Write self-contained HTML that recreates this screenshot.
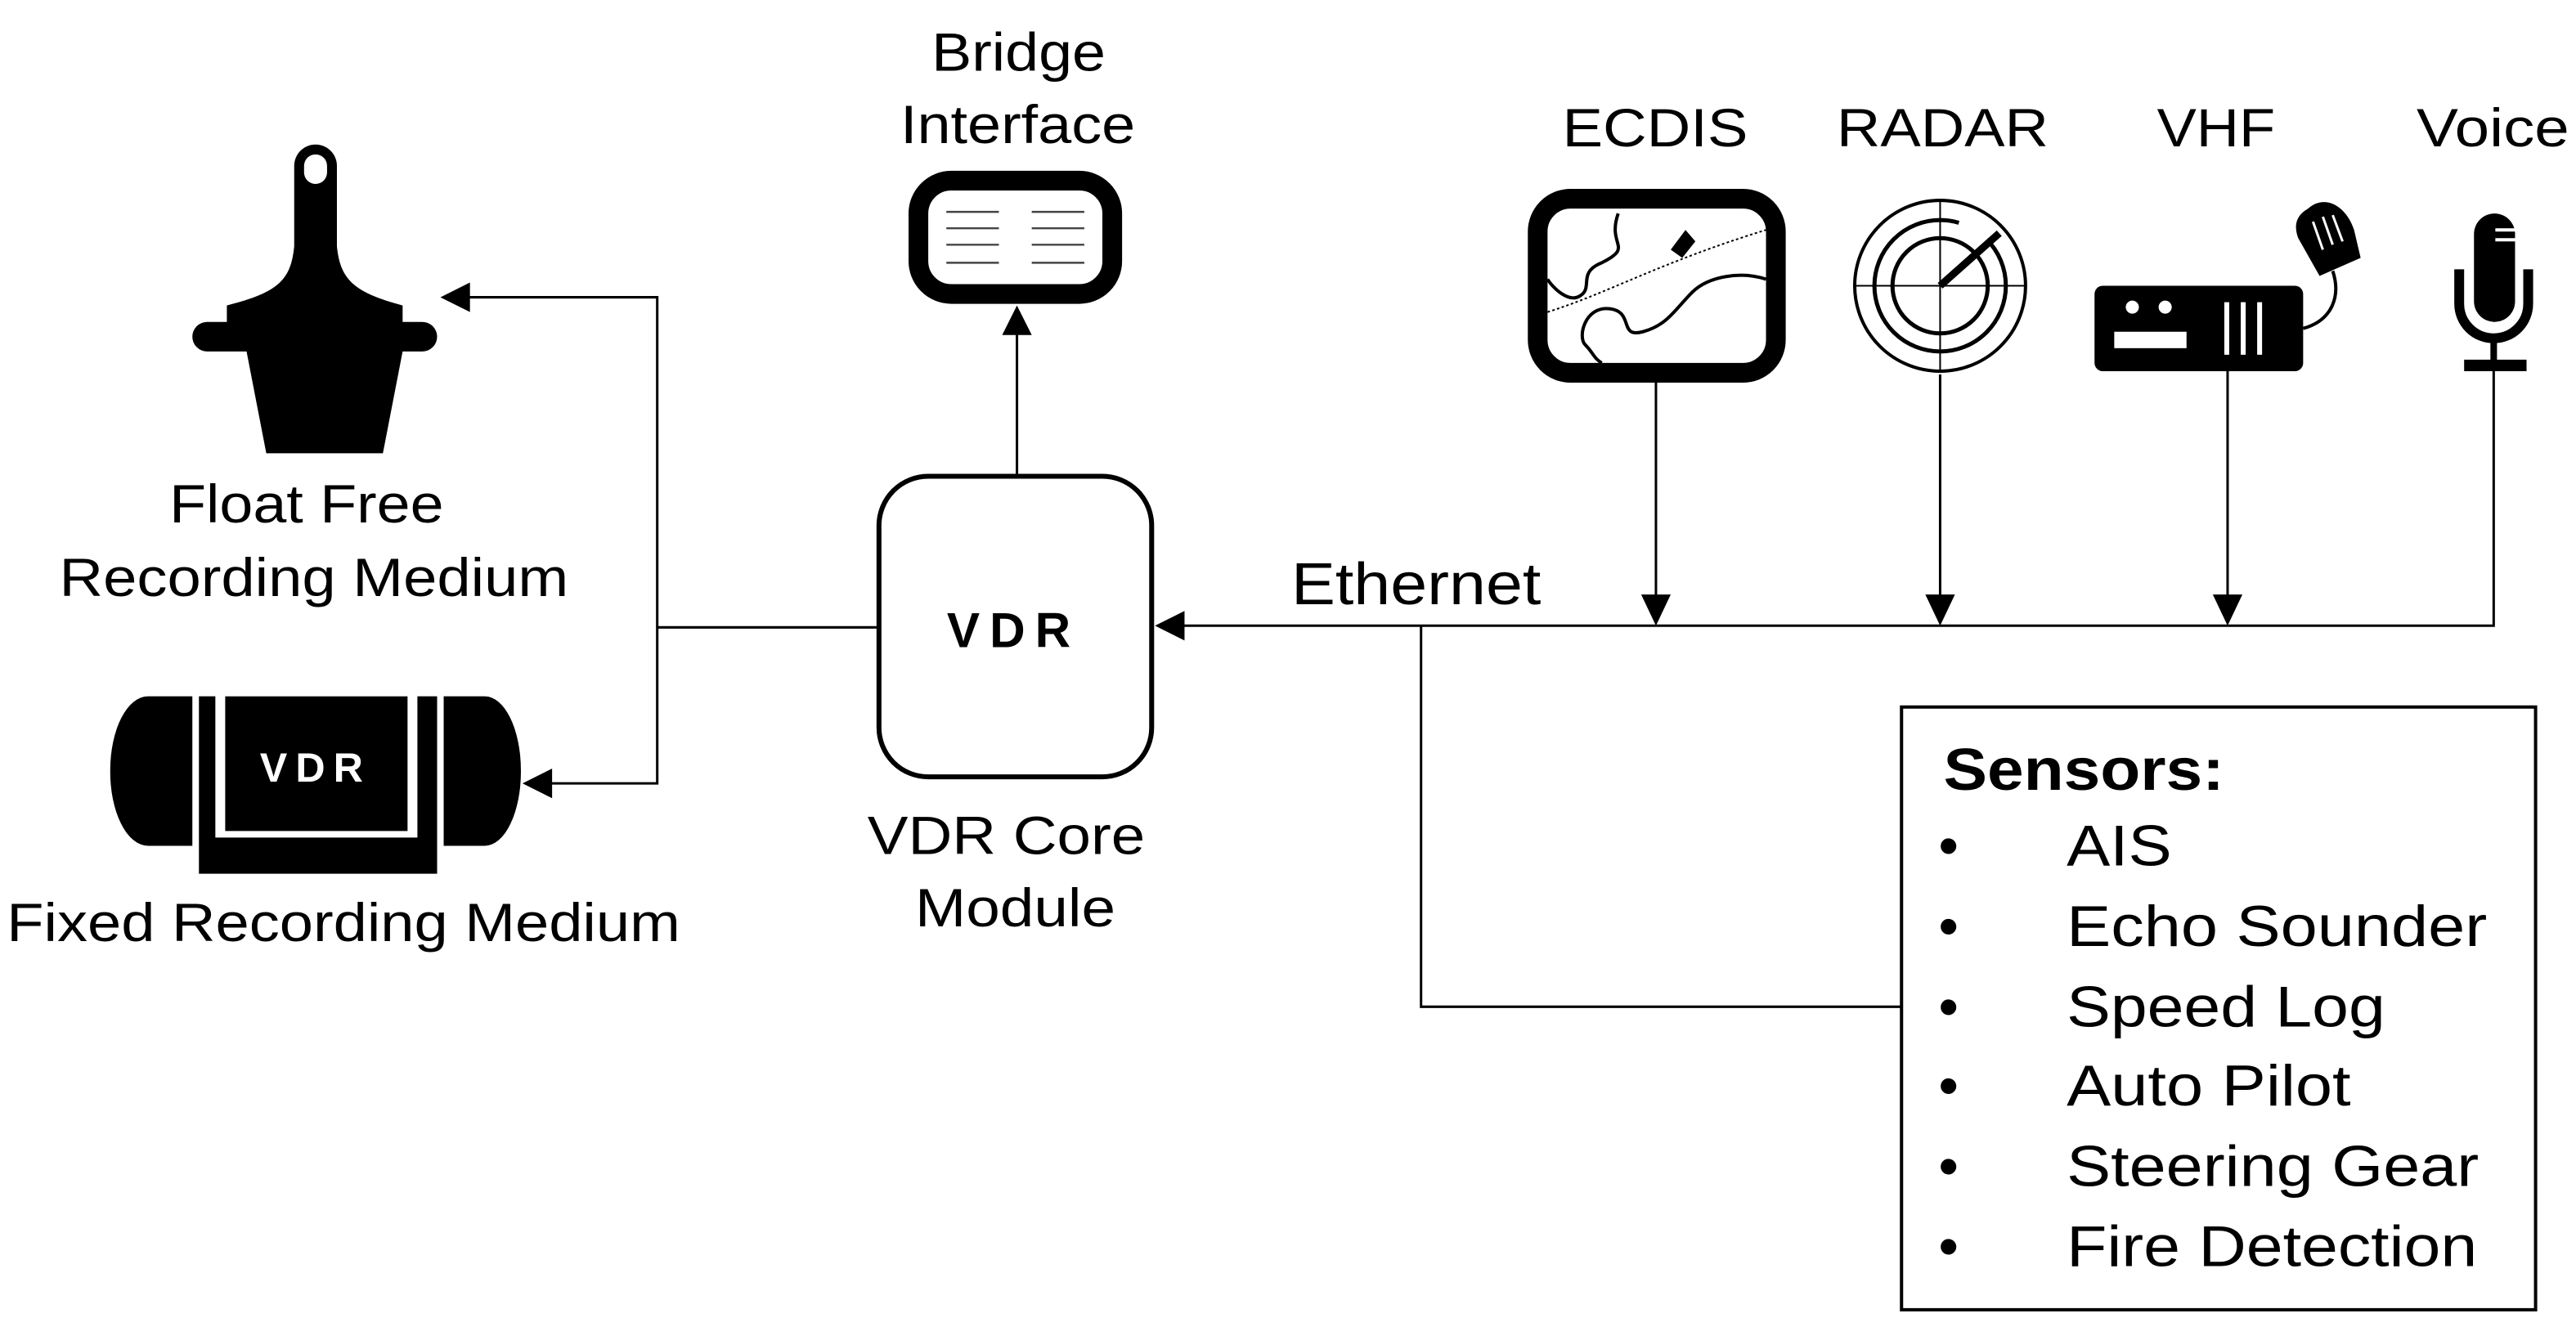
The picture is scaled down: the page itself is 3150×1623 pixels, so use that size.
<!DOCTYPE html>
<html><head><meta charset="utf-8"><style>
html,body{margin:0;padding:0;background:#fff}
svg{display:block}
text{font-family:"Liberation Sans",Arial,sans-serif;fill:#000}
</style></head><body>
<svg width="3150" height="1623" viewBox="0 0 1568 808" xmlns="http://www.w3.org/2000/svg">
<rect width="1568" height="808" fill="#fff"/>
<!-- Labels -->
<g font-size="33" lengthAdjust="spacingAndGlyphs">
<text x="567" y="43" textLength="106" lengthAdjust="spacingAndGlyphs">Bridge</text>
<text x="548" y="87" textLength="143" lengthAdjust="spacingAndGlyphs">Interface</text>
<text x="103" y="318" textLength="167" lengthAdjust="spacingAndGlyphs">Float Free</text>
<text x="36" y="363" textLength="310" lengthAdjust="spacingAndGlyphs">Recording Medium</text>
<text x="4" y="573" textLength="410" lengthAdjust="spacingAndGlyphs">Fixed Recording Medium</text>
<text x="528" y="520" textLength="169" lengthAdjust="spacingAndGlyphs">VDR Core</text>
<text x="557" y="564" textLength="122" lengthAdjust="spacingAndGlyphs">Module</text>
<text x="951" y="89" textLength="113" lengthAdjust="spacingAndGlyphs">ECDIS</text>
<text x="1118" y="89" textLength="129" lengthAdjust="spacingAndGlyphs">RADAR</text>
<text x="1313" y="89" textLength="72" lengthAdjust="spacingAndGlyphs">VHF</text>
<text x="1471" y="89" textLength="93" lengthAdjust="spacingAndGlyphs">Voice</text>
</g>
<text x="786" y="368" font-size="36" textLength="152" lengthAdjust="spacingAndGlyphs">Ethernet</text>

<!-- Bridge icon -->
<rect x="559" y="110" width="118" height="69" rx="20" fill="#fff" stroke="#000" stroke-width="12"/>
<g stroke="#444" stroke-width="1.2">
<line x1="576" y1="129" x2="608" y2="129"/><line x1="576" y1="139" x2="608" y2="139"/><line x1="576" y1="149" x2="608" y2="149"/><line x1="576" y1="160" x2="608" y2="160"/>
<line x1="628" y1="129" x2="660" y2="129"/><line x1="628" y1="139" x2="660" y2="139"/><line x1="628" y1="149" x2="660" y2="149"/><line x1="628" y1="160" x2="660" y2="160"/>
</g>

<!-- VDR core -->
<rect x="535" y="290" width="166" height="183" rx="30" fill="#fff" stroke="#000" stroke-width="3"/>
<text x="617" y="394" font-size="30" font-weight="bold" text-anchor="middle" letter-spacing="6">VDR</text>

<!-- connectors -->
<g stroke="#000" stroke-width="1.5" fill="none">
<line x1="619" y1="289" x2="619" y2="200"/>
<line x1="534" y1="382" x2="400" y2="382"/>
<polyline points="285,181 400,181 400,477 335,477"/>
<polyline points="1518,225 1518,381 720,381"/>
<line x1="1008" y1="233" x2="1008" y2="365"/>
<line x1="1181" y1="228" x2="1181" y2="365"/>
<line x1="1356" y1="225" x2="1356" y2="365"/>
<polyline points="865,381 865,613 1157,613"/>
</g>
<g fill="#000">
<polygon points="619,186 610,204 628,204"/>
<polygon points="268,181 286,172 286,190"/>
<polygon points="318,477 336,468 336,486"/>
<polygon points="703,381 721,372 721,390"/>
<polygon points="1008,381 999,362 1017,362"/>
<polygon points="1181,381 1172,362 1190,362"/>
<polygon points="1356,381 1347,362 1365,362"/>
</g>

<!-- Float free icon -->
<g fill="#000">
<path d="M179,150 L179,101 A13,13 0 0 1 205,101 L205,150 C207,170 215,178 245,186 L245,196 L257,196 A9,9 0 0 1 257,214 L245,214 L233,276 L162,276 L150,214 L126,214 A9,9 0 0 1 126,196 L138,196 L138,186 C170,178 177,170 179,150 Z"/>
</g>
<rect x="185" y="94" width="14" height="18" rx="7" fill="#fff"/>

<!-- Fixed recording medium -->
<g fill="#000">
<path d="M117,424 L90,424 A23,45 0 0 0 67,469 A23,45 0 0 0 90,515 L117,515 Z"/>
<path d="M270,424 L295,424 A22,45 0 0 1 317,469 A22,45 0 0 1 295,515 L270,515 Z"/>
<path d="M121,424 L131,424 L131,510 L254,510 L254,424 L266,424 L266,532 L121,532 Z"/>
<rect x="137" y="424" width="111" height="82"/>
</g>
<text x="192" y="476" font-size="25" font-weight="bold" style="fill:#fff" text-anchor="middle" letter-spacing="5">VDR</text>

<!-- ECDIS -->
<rect x="936" y="121" width="145" height="106" rx="20" fill="#fff" stroke="#000" stroke-width="12"/>
<g fill="none" stroke="#000" stroke-width="2">
<path d="M985,130 C978,150 995,150 975,160 C960,166 970,175 962,180 C955,185 945,175 942,170"/>
<path d="M1075,170 C1060,165 1040,168 1030,178 C1020,188 1015,198 1000,202 C985,206 995,190 980,188 C965,186 960,205 965,210 C970,215 970,218 975,221"/>
</g>
<path d="M942,190 C980,178 1010,160 1075,140" fill="none" stroke="#000" stroke-width="1" stroke-dasharray="1.5 1.5"/>
<polygon points="1026,140 1032,147 1024,157 1017,152" fill="#000"/>

<!-- RADAR -->
<g fill="none" stroke="#000">
<circle cx="1181" cy="174" r="52" stroke-width="2"/>
<circle cx="1181" cy="174" r="40" stroke-width="2.5" stroke-dasharray="200 20"/>
<circle cx="1181" cy="174" r="29" stroke-width="2.5"/>
<line x1="1129" y1="174" x2="1233" y2="174" stroke-width="1"/>
<line x1="1181" y1="122" x2="1181" y2="226" stroke-width="1"/>
<line x1="1181" y1="174" x2="1217" y2="142" stroke-width="4.5"/>
</g>

<!-- VHF -->
<rect x="1275" y="174" width="127" height="52" rx="5" fill="#000"/>
<g fill="#fff">
<circle cx="1298" cy="187" r="4"/><circle cx="1318" cy="187" r="4"/>
<rect x="1287" y="202" width="44" height="10"/>
<rect x="1354" y="184" width="3" height="32"/><rect x="1364" y="184" width="3" height="32"/><rect x="1374" y="184" width="3" height="32"/>
</g>
<path d="M1402,200 C1420,195 1425,180 1420,165" fill="none" stroke="#000" stroke-width="2"/>
<path d="M1405,127 C1415,118 1428,125 1433,140 L1437,157 L1412,168 L1399,145 C1396,137 1398,131 1405,127 Z" fill="#000"/>
<g stroke="#fff" stroke-width="1.5"><line x1="1408" y1="135" x2="1414" y2="152"/><line x1="1414" y1="132" x2="1420" y2="149"/><line x1="1420" y1="131" x2="1426" y2="147"/></g>

<!-- Mic -->
<rect x="1506" y="130" width="25" height="66" rx="12.5" fill="#000"/>
<rect x="1519" y="139" width="12" height="2" fill="#fff"/><rect x="1519" y="145" width="12" height="2" fill="#fff"/>
<path d="M1497,164 L1497,185 A21,21 0 0 0 1539,185 L1539,164" fill="none" stroke="#000" stroke-width="6"/>
<rect x="1516" y="205" width="4" height="15" fill="#000"/>
<rect x="1500" y="219" width="38" height="7" fill="#000"/>

<!-- Sensors box -->
<rect x="1157.5" y="430.5" width="386" height="367" fill="#fff" stroke="#000" stroke-width="2"/>
<text x="1183" y="481" font-size="36" font-weight="bold" textLength="171" lengthAdjust="spacingAndGlyphs">Sensors:</text>
<g font-size="35">
<text x="1180" y="527">•</text><text x="1258" y="527" textLength="64" lengthAdjust="spacingAndGlyphs">AIS</text>
<text x="1180" y="576">•</text><text x="1258" y="576" textLength="256" lengthAdjust="spacingAndGlyphs">Echo Sounder</text>
<text x="1180" y="625">•</text><text x="1258" y="625" textLength="194" lengthAdjust="spacingAndGlyphs">Speed Log</text>
<text x="1180" y="673">•</text><text x="1258" y="673" textLength="173" lengthAdjust="spacingAndGlyphs">Auto Pilot</text>
<text x="1180" y="722">•</text><text x="1258" y="722" textLength="251" lengthAdjust="spacingAndGlyphs">Steering Gear</text>
<text x="1180" y="771">•</text><text x="1258" y="771" textLength="250" lengthAdjust="spacingAndGlyphs">Fire Detection</text>
</g>
</svg>
</body></html>
